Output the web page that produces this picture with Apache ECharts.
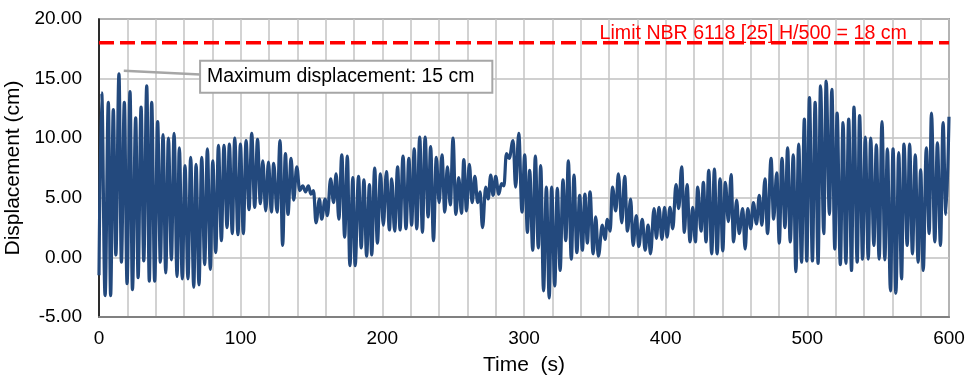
<!DOCTYPE html>
<html>
<head>
<meta charset="utf-8">
<script src="https://cdn.jsdelivr.net/npm/echarts@6/dist/echarts.min.js"></script>
<style>
html,body{margin:0;padding:0;background:#fff;}
#chart{width:971px;height:384px;}
</style>
</head>
<body>
<div id="chart"></div>
<script>
// Time (s) of each peak / trough
const timeS = [
0,1.9,4.3,6.6,8.2,10.1,11.9,14.1,15.8,17.9,19.8,21.9,23.6,25.9,27.6,29.7,31.6,33.7,35.5,37.2,39.3,41.4,43.3,45.2,47.1,49.0,51.1,53.0,55.1,56.7,58.8,60.7,62.8,64.7,66.9,68.5,70.6,72.5,74.6,76.5,78.6,80.3,82.4,84.3,86.4,88.2,90.4,92.0,94.1,95.8,98.1,99.8,
101.9,103.8,105.9,107.8,109.9,111.9,113.9,115.6,117.7,119.6,121.7,123.3,125.7,127.8,129.6,131.6,133.4,135.6,137.4,139.6,141.7,143.8,145.8,147.8,149.6,151.4,153.2,155.6,157.2,159.6,161.2,163.5,165.6,167.4,169.3,171.4,173.4,175.3,177.1,179.2,180.8,183.2,185.1,187.0,188.9,190.9,192.5,194.6,196.5,198.7,
200.7,202.9,205.0,206.6,208.7,210.8,212.5,214.6,216.7,218.7,220.7,222.5,224.3,226.4,228.3,230.2,232.3,234.1,236.1,238.1,240.1,242.1,244.1,245.9,248.0,249.9,251.9,253.9,255.9,257.5,259.4,261.4,263.4,265.3,267.3,269.0,270.7,273.0,274.7,276.5,278.2,280.0,282.2,284.1,285.8,287.6,289.5,292.3,294.1,296.3,298.6,300.5,
302.4,304.0,306.2,308.0,310.1,311.8,313.8,315.8,317.8,319.5,321.7,323.5,325.5,327.5,329.5,331.3,333.4,335.3,337.3,339.3,341.2,343.0,344.7,346.6,348.8,350.6,352.5,355.3,357.2,358.8,360.8,362.4,364.8,366.6,369.0,371.1,373.0,375.3,377.0,379.3,381.0,383.5,385.5,387.6,389.3,391.8,393.5,395.3,397.4,399.2,
401.0,403.0,405.0,407.3,409.2,411.3,413.2,415.1,417.2,419.1,421.0,422.6,425.0,426.6,428.5,430.4,432.5,434.4,436.3,438.4,440.3,442.1,444.3,446.2,447.9,450.1,451.9,454.4,456.1,457.9,460.1,461.9,464.1,466.1,467.9,470.1,471.9,474.4,476.2,478.4,480.2,482.1,484.2,486.1,487.9,490.1,491.9,493.9,495.9,497.9,499.6,
501.5,503.6,505.5,507.6,509.3,511.6,513.3,515.6,517.3,519.4,521.0,523.3,525.2,527.2,529.2,531.2,532.9,535.2,536.9,539.0,540.9,543.0,544.7,547.0,548.7,550.7,552.7,554.7,556.5,558.7,560.5,562.5,564.5,566.5,568.2,570.5,572.2,574.2,576.2,578.2,580.0,581.8,584.0,586.0,587.6,590.0,591.8,594.0,595.8,597.8,600
];
// Displacement (cm) at those times
const displacementCm = [
-1.5,13.8,-3.2,13.0,-3.2,12.4,0.2,15.4,-0.4,13.0,-2.2,13.9,-2.7,11.7,-1.7,12.6,-0.3,14.4,-2.0,13.0,-2.0,11.4,-0.4,10.3,-1.3,10.0,-0.2,10.4,-1.6,9.2,-1.8,7.7,-1.8,8.4,-2.5,7.8,-2.3,8.4,-0.6,9.1,-1.0,8.1,0.4,9.4,1.4,9.4,2.5,9.5,2.0,10.0,1.9,9.5,
2.0,9.8,4.0,10.4,4.2,9.9,4.5,8.1,3.9,8.0,3.8,7.9,3.8,9.8,1.0,8.7,3.6,8.3,4.8,7.6,5.6,6.0,5.5,6.0,5.3,5.6,2.9,4.9,3.2,4.9,3.5,6.6,4.6,7.0,3.2,8.6,1.7,8.5,-0.7,6.7,-0.7,6.8,0.8,6.5,0.1,6.1,0.2,7.5,1.2,7.0,
2.7,7.2,2.3,6.6,2.2,7.6,2.3,8.5,2.4,8.3,2.7,9.1,2.4,10.1,2.1,10.1,3.4,9.3,1.4,8.4,4.6,8.6,3.8,7.6,4.4,10.0,3.6,6.7,3.7,8.2,3.9,7.8,4.6,6.8,4.6,5.5,2.5,5.9,4.9,6.9,5.2,6.8,5.3,6.2,6.0,8.7,8.3,9.8,5.9,10.4,3.8,8.6,
2.1,7.3,0.6,8.5,0.8,7.7,-2.8,5.9,-3.4,5.9,-2.4,5.8,-1.1,6.5,1.4,8.1,-0.15,6.9,0.4,5.2,0.6,5.3,1.2,5.5,0.3,3.4,0.1,2.7,1.5,3.2,2.2,5.9,3.9,7.0,2.9,6.8,2.2,4.9,1.0,3.5,0.9,3.2,0.6,2.7,0.3,4.1,1.6,4.2,1.5,4.2,
1.7,4.2,2.4,6.1,4.1,7.6,2.1,6.1,1.3,4.2,1.3,5.9,2.2,6.3,1.3,7.3,0.3,7.4,0.3,6.6,0.55,6.3,3.0,6.95,1.3,4.8,2.0,4.1,0.7,4.1,2.4,4.6,2.8,5.2,2.7,6.6,2.0,8.3,3.2,7.1,1.2,8.3,2.5,9.2,1.3,8.6,-1.2,9.5,-0.4,11.6,-0.3,
13.4,-0.3,13.0,-0.5,14.4,2.0,14.8,3.6,14.1,0.7,12.1,-0.6,11.3,-0.5,11.6,-1.1,12.6,-0.4,11.9,-0.15,10.1,-0.15,10.0,1.0,9.45,-0.15,11.4,-0.2,9.1,-2.8,9.1,-3.0,8.8,-1.8,9.5,1.0,9.5,0.3,8.6,-0.4,7.35,-1.1,9.2,2.0,12.1,1.3,9.6,1.0,11.3,3.6,11.8
];
// Axis ranges and ticks
const xTicks = [0, 100, 200, 300, 400, 500, 600];
const yTicks = [-5, 0, 5, 10, 15, 20];
const limitValue = 18;
const limitText = 'Limit NBR 6118 [25] H/500 = 18 cm';
const maxText = 'Maximum displacement: 15 cm';

const FONT = '"Liberation Sans", Arial, sans-serif';
const chart = echarts.init(document.getElementById('chart'), null, {renderer: 'canvas'});
const seriesData = timeS.map((t, i) => [t, displacementCm[i]]);

chart.setOption({
  animation: false,
  backgroundColor: '#fff',
  grid: {left: 99, right: 22, top: 19, bottom: 67, containLabel: false, outerBoundsMode: 'none',
         show: true, borderColor: '#595959', borderWidth: 1.5, backgroundColor: 'transparent'},
  xAxis: {
    type: 'value', min: xTicks[0], max: xTicks[xTicks.length - 1], interval: 100,
    name: 'Time  (s)', nameLocation: 'middle', nameGap: 38,
    nameTextStyle: {fontFamily: FONT, fontSize: 21, color: '#000'},
    axisLine: {show: true, onZero: false, lineStyle: {color: '#808080', width: 2}},
    axisTick: {show: false},
    axisLabel: {fontFamily: FONT, fontSize: 19, color: '#000', margin: 12},
    splitLine: {show: true, lineStyle: {color: '#c4c4c4', width: 1.5}},
    minorTick: {show: false, splitNumber: 5},
    minorSplitLine: {show: true, lineStyle: {color: '#c4c4c4', width: 1.5}}
  },
  yAxis: {
    type: 'value', min: yTicks[0], max: yTicks[yTicks.length - 1], interval: 5,
    name: 'Displacement (cm)', nameLocation: 'middle', nameGap: 66,
    nameTextStyle: {fontFamily: FONT, fontSize: 21, color: '#000'},
    axisLine: {show: true, onZero: false, lineStyle: {color: '#000', width: 1.5}},
    axisTick: {show: false},
    axisLabel: {fontFamily: FONT, fontSize: 19, color: '#000', margin: 17, formatter: v => v.toFixed(2)},
    splitLine: {show: true, lineStyle: {color: '#c0c0c0', width: 1.5}}
  },
  series: [
    {
      type: 'line', data: seriesData, showSymbol: false, symbol: 'none',
      smooth: 0.4, smoothMonotone: 'x',
      lineStyle: {color: '#23497d', width: 3.2},
      z: 3,
      markLine: {
        silent: true, symbol: ['none', 'arrow'], symbolSize: [0, 14], z: 6,
        lineStyle: {color: '#a6a6a6', width: 2.5, type: 'solid'},
        itemStyle: {color: '#a6a6a6'},
        label: {show: false},
        data: [[{coord: [71.5, 15.35]}, {coord: [17.5, 15.65]}]]
      }
    },
    {
      type: 'line', data: [[xTicks[0], limitValue], [xTicks[xTicks.length - 1], limitValue]],
      showSymbol: false, symbol: 'none',
      lineStyle: {color: '#ff0000', width: 3.5, type: [15, 6]},
      z: 4,
      markPoint: {
        silent: true, symbol: 'rect', symbolSize: 0,
        data: [
          {coord: [461.8, 18.8], label: {show: true, position: 'inside', formatter: limitText, color: '#ff0000', fontFamily: FONT, fontSize: 19.6}},
          {coord: [174.5, 15.15], label: {show: true, position: 'inside', formatter: maxText, color: '#000', fontFamily: FONT, fontSize: 19.4,
            backgroundColor: '#fff', borderColor: '#a6a6a6', borderWidth: 2, padding: [4, 17, 4, 6], lineHeight: 22}}
        ]
      }
    }
  ]
});
</script>
</body>
</html>
